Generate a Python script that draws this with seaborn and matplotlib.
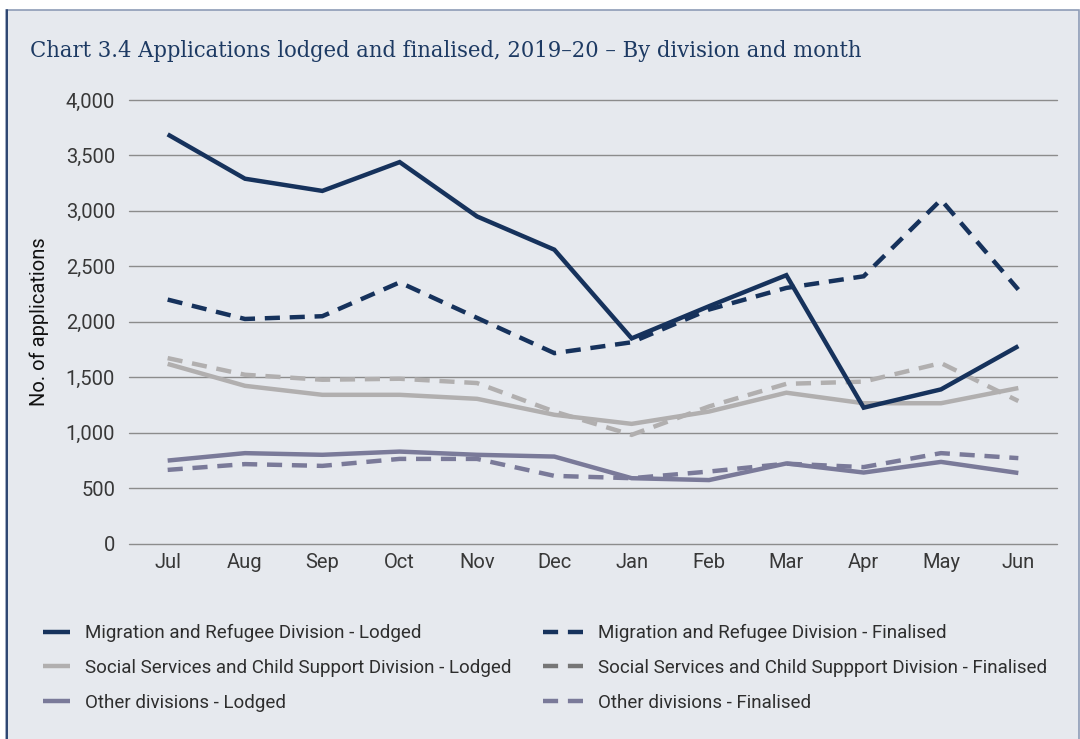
import numpy as np
import pandas as pd
import matplotlib
matplotlib.use("Agg")
import matplotlib.pyplot as plt
from matplotlib.lines import Line2D
from matplotlib.patches import Rectangle
from matplotlib.ticker import FuncFormatter
import seaborn as sns

# Monthly applications, 2019-20
months = ["Jul", "Aug", "Sep", "Oct", "Nov", "Dec", "Jan", "Feb", "Mar", "Apr", "May", "Jun"]
mrd_lodged = [3690, 3290, 3180, 3440, 2950, 2650, 1850, 2140, 2420, 1225, 1390, 1780]
mrd_finalised = [2200, 2025, 2050, 2355, 2035, 1717, 1815, 2110, 2305, 2410, 3100, 2290]
sscsd_lodged = [1620, 1422, 1341, 1341, 1305, 1161, 1079, 1190, 1360, 1265, 1265, 1402]
sscsd_finalised = [1672, 1522, 1477, 1486, 1447, 1190, 980, 1236, 1440, 1460, 1627, 1285]
other_lodged = [748, 815, 800, 829, 800, 784, 589, 572, 722, 640, 736, 636]
other_finalised = [664, 716, 700, 763, 763, 610, 589, 649, 720, 689, 815, 770]

labels_lodged = [
    "Migration and Refugee Division - Lodged",
    "Social Services and Child Support Division - Lodged",
    "Other divisions - Lodged",
]
labels_finalised = [
    "Migration and Refugee Division - Finalised",
    "Social Services and Child Suppport Division - Finalised",
    "Other divisions - Finalised",
]

NAVY = "#16325c"
LIGHT = "#b1afaf"
SLATE = "#7a7a99"
LEGEND_GREY = "#767676"
BG = "#e6e9ee"
GRID = "#8c8c8c"
TEXT = "#383838"

sns.set_theme(style="white")
plt.rcParams["font.family"] = ["Roboto", "DejaVu Sans"]

fig = plt.figure(figsize=(10.8, 7.39), dpi=100)
fig.patch.set_facecolor("white")

# panel background with border
panel = Rectangle((6 / 1080, -0.01), (1079 - 6) / 1080, 1 - 10 / 739 + 0.01,
                  transform=fig.transFigure, facecolor=BG, edgecolor="#8e9cb6",
                  linewidth=1.2, zorder=-2)
fig.patches.append(panel)
fig.lines.append(Line2D([6.5 / 1080, 6.5 / 1080], [0, 1 - 10 / 739],
                        transform=fig.transFigure, color="#2b4470", linewidth=1.4,
                        zorder=-1))

ax = fig.add_axes([129 / 1080, 1 - 543.5 / 739, (1057 - 129) / 1080, (543.5 - 100) / 739])
ax.set_facecolor("none")
ax.set_zorder(1)

lw = 3.2
dash = (3.4, 2.2)
series = [
    (mrd_lodged, NAVY, None),
    (mrd_finalised, NAVY, dash),
    (sscsd_lodged, LIGHT, None),
    (sscsd_finalised, LIGHT, dash),
    (other_lodged, SLATE, None),
    (other_finalised, SLATE, dash),
]
order = [4, 5, 2, 3, 0, 1]
x = np.arange(len(months))
for i in order:
    vals, col, ds = series[i]
    df = pd.DataFrame({"x": x, "y": vals})
    kw = dict(dashes=ds) if ds else {}
    sns.lineplot(data=df, x="x", y="y", ax=ax, color=col, linewidth=lw,
                 legend=False, **kw)
for ln in ax.lines:
    ln.set_solid_capstyle("butt")
    ln.set_dash_capstyle("butt")
    ln.set_solid_joinstyle("miter")
    ln.set_dash_joinstyle("miter")

ax.set_xlim(-0.5, len(months) - 0.5)
ax.set_ylim(0, 4000)
ax.set_xticks(x)
ax.set_xticklabels(months)
ax.set_yticks(np.arange(0, 4001, 500))
ax.yaxis.set_major_formatter(FuncFormatter(lambda v, p: f"{int(v):,}"))
ax.grid(axis="y", color=GRID, linewidth=1.0)
ax.grid(axis="x", visible=False)
for gl in ax.get_ygridlines():
    gl.set_clip_on(False)
ax.set_axisbelow(True)
for s in ax.spines.values():
    s.set_visible(False)
ax.tick_params(axis="both", length=0, labelsize=14.5, labelcolor=TEXT)
ax.tick_params(axis="y", pad=10)
ax.tick_params(axis="x", pad=7)
ax.set_xlabel("")
ax.set_ylabel("No. of applications", fontsize=14.5, color="#111111", labelpad=12)

fig.text(30 / 1080, 1 - 57 / 739, "Chart 3.4 Applications lodged and finalised, 2019\u201320 \u2013 By division and month",
         family=["DejaVu Serif"], fontstretch="condensed", fontsize=16.9, color="#1d3a63",
         va="baseline", ha="left")

# legend, two columns
h_left = [Line2D([], [], color=c, linewidth=lw, solid_capstyle="butt") for c in (NAVY, LIGHT, SLATE)]
h_right = [Line2D([], [], color=c, linewidth=lw, dashes=dash, dash_capstyle="butt")
           for c in (NAVY, LEGEND_GREY, SLATE)]
common = dict(frameon=False, fontsize=13.5, labelspacing=0.9, borderaxespad=0,
              borderpad=0, handletextpad=0.8, labelcolor="#2e2e2e")
leg1 = fig.legend(h_left, labels_lodged, loc="upper left",
                  bbox_to_anchor=(43 / 1080, 1 - 624 / 739), handlelength=1.45, **common)
leg2 = fig.legend(h_right, labels_finalised, loc="upper left",
                  bbox_to_anchor=(543 / 1080, 1 - 624 / 739), handlelength=2.4,
                  **{**common, "handletextpad": 0.55})

fig.savefig("out.png", dpi=100, facecolor=fig.get_facecolor())
